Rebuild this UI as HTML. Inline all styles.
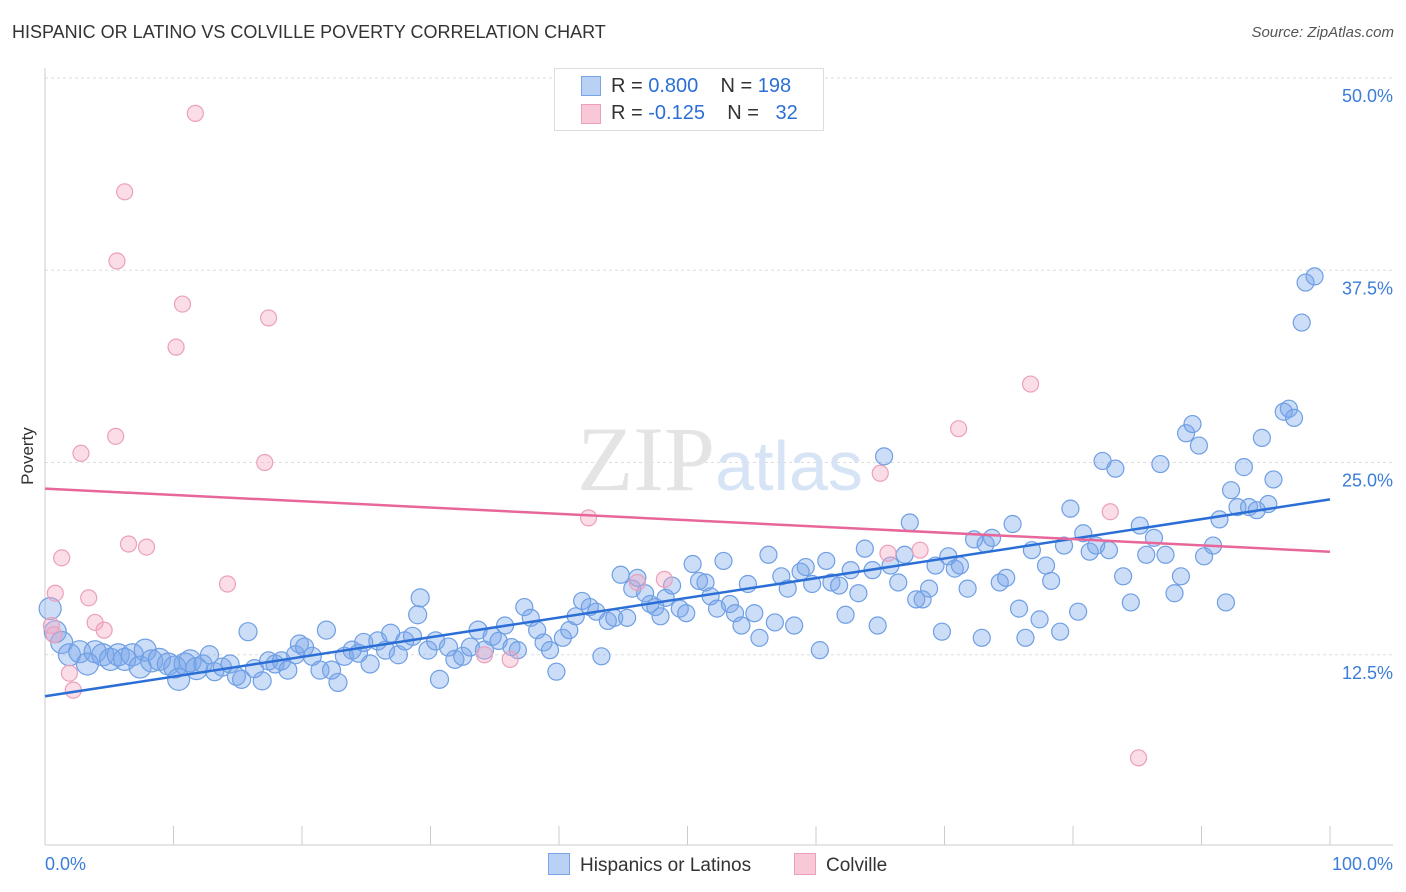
<!DOCTYPE html>
<html><head><meta charset="utf-8">
<style>
body{margin:0;background:#fff;font-family:"Liberation Sans",sans-serif;}
#wrap{position:relative;width:1406px;height:892px;overflow:hidden;}
.t{position:absolute;white-space:nowrap;}
</style></head><body>
<div id="wrap">
<div class="t" style="left:12px;top:22px;font-size:18px;color:#333;">HISPANIC OR LATINO VS COLVILLE POVERTY CORRELATION CHART</div>
<div class="t" style="right:12px;top:24px;font-size:15px;color:#555;font-style:italic;">Source: ZipAtlas.com</div>
<svg id="svg" width="1406" height="892" style="position:absolute;left:0;top:0"></svg>
</div>
<script>
const yTicks=[12.5,25,37.5,50];
const yTickLabels=["12.5%","25.0%","37.5%","50.0%"];
const xTickLabels=["0.0%","100.0%"];
const pinkX=[11.7,6.2,5.6,10.7,17.4,10.2,5.5,2.8,17.1,6.5,7.9,1.3,14.2,0.8,3.4,3.9,4.6,0.5,0.7,1.9,2.2,42.3,46.1,48.2,65.0,71.1,76.7,82.9,65.6,68.1,34.2,36.2,85.1];
const pinkY=[47.7,42.6,38.1,35.3,34.4,32.5,26.7,25.6,25.0,19.7,19.5,18.8,17.1,16.5,16.2,14.6,14.1,14.4,13.8,11.3,10.2,21.4,17.2,17.4,24.3,27.2,30.1,21.8,19.1,19.3,12.5,12.2,5.8];
const blueX=[0.4,0.8,1.3,1.9,2.7,3.3,3.9,4.5,5.1,5.7,6.2,6.8,7.4,7.8,8.3,8.9,9.6,10.1,10.4,10.9,11.3,11.8,12.3,12.8,13.2,13.8,14.4,14.9,15.3,15.8,16.3,16.9,17.4,17.9,18.4,18.9,19.5,19.8,20.2,20.8,21.4,21.9,22.3,22.8,23.3,23.9,24.4,24.8,25.3,25.9,26.5,26.9,27.5,28.0,28.6,29.0,29.2,29.8,30.4,30.7,31.4,31.9,32.5,33.1,33.7,34.2,34.8,35.3,35.8,36.3,36.8,37.3,37.8,38.3,38.8,39.3,39.8,40.3,40.8,41.3,41.8,42.4,42.9,43.3,43.8,44.3,44.8,45.3,45.7,46.1,46.7,47.1,47.5,47.9,48.3,48.8,49.4,49.9,50.4,50.9,51.4,51.8,52.3,52.8,53.3,53.7,54.2,54.7,55.2,55.6,56.3,56.8,57.3,57.8,58.3,58.8,59.2,59.7,60.3,60.8,61.2,61.8,62.3,62.7,63.3,63.8,64.4,64.8,65.3,65.8,66.4,66.9,67.3,67.8,68.3,68.8,69.3,69.8,70.3,70.8,71.2,71.8,72.3,72.9,73.2,73.7,74.3,74.8,75.3,75.8,76.3,76.8,77.4,77.9,78.3,79.0,79.3,79.8,80.4,80.8,81.3,81.8,82.3,82.8,83.3,83.9,84.5,85.2,85.7,86.3,86.8,87.2,87.9,88.4,88.8,89.3,89.8,90.2,90.9,91.4,91.9,92.3,92.8,93.3,93.7,94.3,94.7,95.2,95.6,96.4,96.8,97.2,97.8,98.1,98.8];
const blueY=[15.5,14.0,13.3,12.5,12.7,11.9,12.7,12.5,12.2,12.5,12.2,12.5,11.7,12.8,12.1,12.2,11.9,11.7,10.9,11.9,12.1,11.6,11.9,12.5,11.4,11.7,11.9,11.1,10.9,14.0,11.6,10.8,12.1,11.9,12.1,11.5,12.5,13.2,13.0,12.4,11.5,14.1,11.5,10.7,12.4,12.8,12.6,13.3,11.9,13.4,12.8,13.9,12.5,13.4,13.7,15.1,16.2,12.8,13.4,10.9,13.0,12.2,12.4,13.0,14.1,12.8,13.7,13.4,14.4,13.0,12.8,15.6,14.9,14.1,13.3,12.8,11.4,13.6,14.1,15.0,16.0,15.6,15.3,12.4,14.7,14.9,17.7,14.9,16.8,17.5,16.5,15.8,15.6,15.0,16.2,17.0,15.5,15.2,18.4,17.3,17.2,16.3,15.5,18.6,15.8,15.2,14.4,17.1,15.2,13.6,19.0,14.6,17.6,16.8,14.4,17.9,18.2,17.1,12.8,18.6,17.2,17.0,15.1,18.0,16.5,19.4,18.0,14.4,25.4,18.3,17.2,19.0,21.1,16.1,16.1,16.8,18.3,14.0,18.9,18.1,18.3,16.8,20.0,13.6,19.7,20.1,17.2,17.5,21.0,15.5,13.6,19.3,14.8,18.3,17.3,14.0,19.6,22.0,15.3,20.4,19.2,19.6,25.1,19.3,24.6,17.6,15.9,20.9,19.0,20.1,24.9,19.0,16.5,17.6,26.9,27.5,26.1,18.9,19.6,21.3,15.9,23.2,22.1,24.7,22.1,21.9,26.6,22.3,23.9,28.3,28.5,27.9,34.1,36.7,37.1];
const svg=document.getElementById('svg');const NS='http://www.w3.org/2000/svg';
const X0=45,X1=1330,Y0=847,Y50=78;
const sx=v=>X0+(X1-X0)*v/100, sy=v=>Y0-(Y0-Y50)*v/50;
function mk(t,a,p){const e=document.createElementNS(NS,t);for(const k in a)e.setAttribute(k,a[k]);(p||svg).appendChild(e);return e;}
// gridlines
yTicks.forEach((v,i)=>{
 const g=mk('line',{x1:45,x2:1393,y1:sy(v),y2:sy(v),stroke:'#ddd','stroke-dasharray':'3,3'});
 
 
 const t=mk('text',{x:1393,y:sy(v)+24,'text-anchor':'end','font-size':18,fill:'#3b7dd8','font-family':'Liberation Sans'});
 t.textContent=yTickLabels[i];
 
 
});
const ax=mk('line',{x1:45,x2:1393,y1:845,y2:845,stroke:'#ccc'});


const ay=mk('line',{x1:45,x2:45,y1:68,y2:845,stroke:'#ccc'});


for(let i=0;i<=10;i++){const tk=mk('line',{x1:sx(i*10),x2:sx(i*10),y1:826,y2:845,stroke:'#ccc'});
 
 }
[[0,'start',45],[1,'end',1393]].forEach(([i,a,x])=>{const t=mk('text',{x:x,y:870,'text-anchor':a,'font-size':18,fill:'#3b7dd8','font-family':'Liberation Sans'});t.textContent=xTickLabels[i];
 
 });
const yl=mk('text',{x:33,y:456,'text-anchor':'middle','font-size':17,fill:'#333',transform:'rotate(-90 33 456)','font-family':'Liberation Sans'});yl.textContent='Poverty';


// watermark
const wm=mk('text',{x:720,y:490,'text-anchor':'middle','font-size':92,fill:'#e4e4e4','font-family':'Liberation Serif'});wm.innerHTML='ZIP<tspan fill="#d6e4f5" font-family="Liberation Sans" font-size="70">atlas</tspan>';


// points
blueX.forEach((x,i)=>{const c=mk('circle',{cx:sx(x),cy:sy(blueY[i]),r:x<12?11:(x<35?9:8.5),fill:'rgba(120,165,235,0.38)',stroke:'#6f9fe4','stroke-width':1.2});
 
 });
pinkX.forEach((x,i)=>{const c=mk('circle',{cx:sx(x),cy:sy(pinkY[i]),r:8,fill:'rgba(245,170,195,0.4)',stroke:'#eba0bb','stroke-width':1.2});
 
 });
const bl=mk('line',{x1:sx(0),y1:sy(9.8),x2:sx(100),y2:sy(22.6),stroke:'#2b6fd6','stroke-width':2.5});


const pl=mk('line',{x1:sx(0),y1:sy(23.3),x2:sx(100),y2:sy(19.2),stroke:'#e7679a','stroke-width':2.5});


</script>
<div class="t" style="left:554px;top:68px;width:268px;height:61px;border:1px solid #ddd;background:#fff;font-size:20px;color:#333;">
 <div style="position:absolute;left:26px;top:7px;width:18px;height:18px;background:#b9d1f5;border:1px solid #7aa4e6"></div>
 <div style="position:absolute;left:56px;top:6px">R = <span style="color:#2b6fd6">0.800</span>&nbsp;&nbsp;&nbsp; N = <span style="color:#2b6fd6">198</span></div>
 <div style="position:absolute;left:26px;top:35px;width:18px;height:18px;background:#f8c8d6;border:1px solid #eba0bb"></div>
 <div style="position:absolute;left:56px;top:33px">R = <span style="color:#2b6fd6">-0.125</span>&nbsp;&nbsp;&nbsp; N = &nbsp;&nbsp;<span style="color:#2b6fd6">32</span></div>
</div>
<div class="t" style="left:548px;top:853px;font-size:19px;color:#333"><span style="display:inline-block;width:20px;height:20px;background:#b9d1f5;border:1px solid #7aa4e6;vertical-align:-4px;margin-right:10px"></span>Hispanics or Latinos</div>
<div class="t" style="left:794px;top:853px;font-size:19px;color:#333"><span style="display:inline-block;width:20px;height:20px;background:#f8c8d6;border:1px solid #eba0bb;vertical-align:-4px;margin-right:10px"></span>Colville</div>
</body></html>
